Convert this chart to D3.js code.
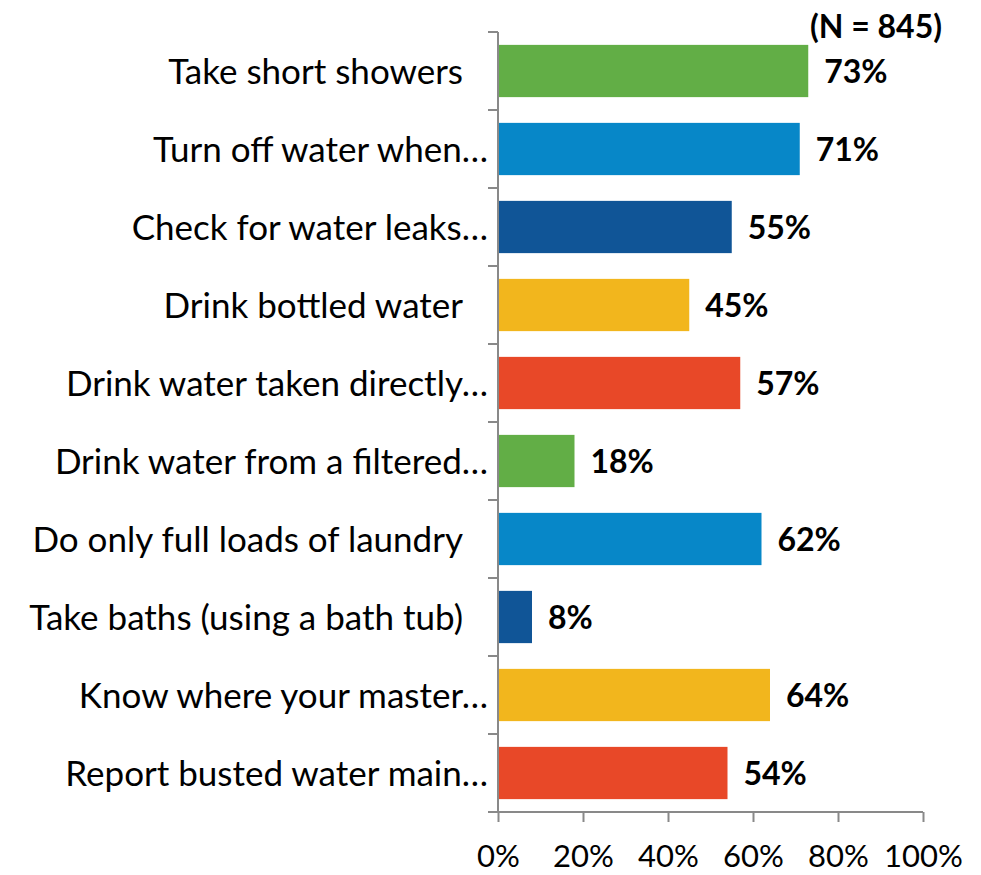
<!DOCTYPE html>
<html lang="en">
<head>
    <meta charset="utf-8">
    <title>Water habits</title>
    <script src="https://d3js.org/d3.v7.min.js" charset="utf-8"></script>
    <style>
        body { margin: 0; background: #fff; }
        text { font-family: Lato, "Open Sans", sans-serif; fill: #000; }
        .value { font-weight: bold; }
        .axis path, .axis line { stroke: #898989; stroke-width: 2; }
    </style>
</head>
<body>
<svg id="chart"></svg>
<script type="text/javascript">
    var categories = [
        "Take short showers",
        "Turn off water when\u2026",
        "Check for water leaks\u2026",
        "Drink bottled water",
        "Drink water taken directly\u2026",
        "Drink water from a filtered\u2026",
        "Do only full loads of laundry",
        "Take baths (using a bath tub)",
        "Know where your master\u2026",
        "Report busted water main\u2026"
    ];
    var values = [73, 71, 55, 45, 57, 18, 62, 8, 64, 54];
    var colors = ["#62ae46", "#0787c8", "#105597", "#f2b61d", "#e84828",
                  "#62ae46", "#0787c8", "#105597", "#f2b61d", "#e84828"];
    var tickValues = [0, 20, 40, 60, 80, 100];
    var sampleNote = "(N = 845)";

    var width = 981, height = 875;
    var plotLeft = 498, plotRight = 923, plotTop = 32, plotBottom = 812;

    var svg = d3.select("#chart")
        .attr("width", width)
        .attr("height", height);

    var x = d3.scaleLinear().domain([0, 100]).range([plotLeft, plotRight]);
    var y = d3.scaleBand().domain(categories).range([plotTop, plotBottom])
        .paddingInner(0.33).paddingOuter(0.165);

    // bars
    svg.selectAll("rect.bar").data(values).enter()
        .append("rect")
        .attr("class", "bar")
        .attr("x", x(0))
        .attr("y", function (d, i) { return y(categories[i]); })
        .attr("width", function (d) { return x(d) - x(0); })
        .attr("height", y.bandwidth())
        .style("fill", function (d, i) { return colors[i]; });

    // value labels
    svg.selectAll("text.value").data(values).enter()
        .append("text")
        .attr("class", "value")
        .attr("x", function (d) { return x(d) + 16; })
        .attr("y", function (d, i) { return y(categories[i]) + y.bandwidth() / 2; })
        .attr("dy", "0.36em")
        .attr("font-size", "32px")
        .text(function (d) { return d + "%"; });

    // y axis: line with ticks between the categories
    var yAxis = svg.append("g").attr("class", "axis");
    yAxis.append("line")
        .attr("x1", plotLeft).attr("x2", plotLeft)
        .attr("y1", plotTop).attr("y2", plotBottom);
    var step = (plotBottom - plotTop) / categories.length;
    yAxis.selectAll("line.tick").data(d3.range(categories.length)).enter()
        .append("line")
        .attr("x1", plotLeft - 10).attr("x2", plotLeft)
        .attr("y1", function (d) { return plotTop + d * step; })
        .attr("y2", function (d) { return plotTop + d * step; });

    // category labels
    svg.selectAll("text.cat").data(categories).enter()
        .append("text")
        .attr("class", "cat")
        .attr("text-anchor", "end")
        .attr("x", function (d) { return d.slice(-1) === "\u2026" ? plotLeft - 10 : plotLeft - 35; })
        .attr("y", function (d) { return y(d) + y.bandwidth() / 2; })
        .attr("dy", "0.36em")
        .attr("font-size", "35px")
        .text(function (d) { return d; });

    // x axis
    var xAxis = svg.append("g")
        .attr("class", "axis")
        .attr("transform", "translate(0," + plotBottom + ")")
        .call(d3.axisBottom(x).tickValues(tickValues).tickSizeInner(10).tickSizeOuter(0)
            .tickFormat(function (d) { return d + "%"; }));
    xAxis.select(".domain").attr("d", "M" + (plotLeft - 10) + ",0H" + plotRight);
    xAxis.selectAll(".tick text")
        .attr("y", 33)
        .attr("dy", "0.71em")
        .attr("font-size", "31px")
        .attr("font-family", "Lato, 'Open Sans', sans-serif")
        .style("fill", "#000");

    // sample size note
    svg.append("text")
        .attr("class", "value")
        .attr("text-anchor", "end")
        .attr("x", 942)
        .attr("y", 26)
        .attr("dy", "0.36em")
        .attr("font-size", "32px")
        .text(sampleNote);
</script>
</body>
</html>
